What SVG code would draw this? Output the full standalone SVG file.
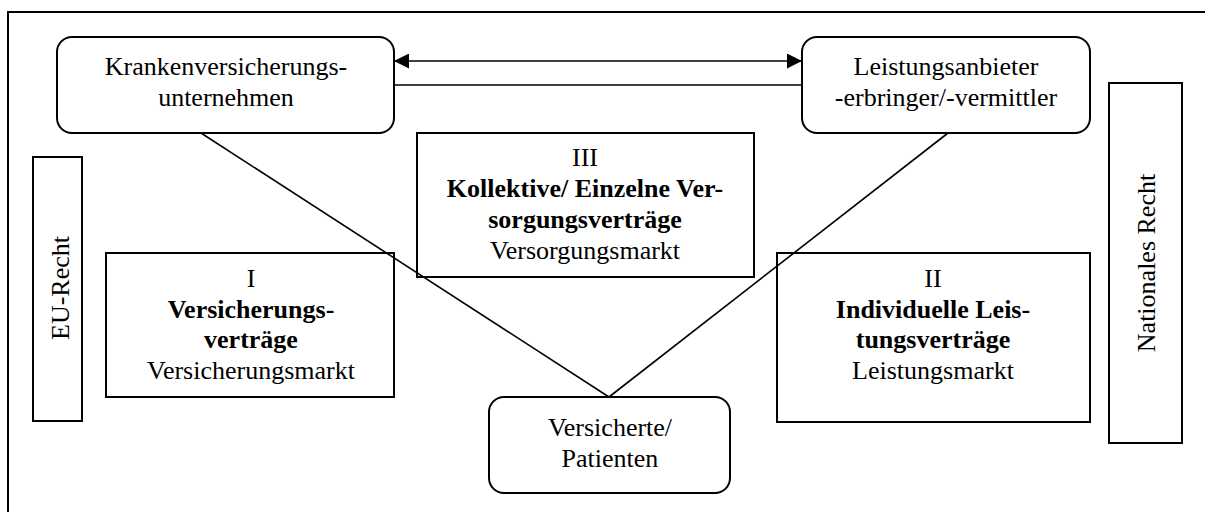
<svg xmlns="http://www.w3.org/2000/svg" width="1205" height="512" viewBox="0 0 1205 512">
  <style>
    .frame { fill: none; stroke: #000; stroke-width: 2; }
    .box { fill: #fff; stroke: #000; stroke-width: 2; }
    .open { fill: none; stroke: #000; stroke-width: 2; }
    .link { stroke: #000; stroke-width: 1.6; fill: none; }
    text { font-family: "Liberation Serif", "Times New Roman", serif; font-size: 26px; fill: #000; text-anchor: middle; }
    .b { font-weight: bold; }
  </style>
  <defs>
    <marker id="arrow" viewBox="0 0 15 15" refX="15" refY="7.5" markerWidth="15" markerHeight="15" markerUnits="userSpaceOnUse" orient="auto-start-reverse">
      <path d="M0,0 L15,7.5 L0,15 Z" fill="#000"/>
    </marker>
  </defs>

  <rect width="1205" height="512" fill="#fff"/>
  <!-- outer frame -->
  <rect class="frame" x="8" y="12" width="1210" height="520"/>

  <!-- connectors -->
  <g id="connectors">
    <line class="link" x1="394" y1="61" x2="802" y2="61" marker-start="url(#arrow)" marker-end="url(#arrow)"/>
    <line class="link" x1="394" y1="85" x2="802" y2="85"/>
    <line class="link" x1="201" y1="133" x2="609" y2="397"/>
    <line class="link" x1="948" y1="133" x2="609" y2="397"/>
  </g>

  <g id="eu-recht">
    <rect class="box" x="33" y="157" width="49" height="264"/>
    <text transform="translate(69,288) rotate(-90)">EU-Recht</text>
  </g>

  <g id="nationales-recht">
    <rect class="box" x="1109" y="83" width="73" height="360"/>
    <text transform="translate(1155,263) rotate(-90)">Nationales Recht</text>
  </g>

  <g id="versicherungsvertraege">
    <rect class="open" x="106" y="253" width="288" height="144"/>
    <text x="251" y="287">I</text>
    <text x="251" y="318" class="b">Versicherungs-</text>
    <text x="251" y="348" class="b">verträge</text>
    <text x="251" y="379">Versicherungsmarkt</text>
  </g>

  <g id="versorgungsvertraege">
    <rect class="open" x="417" y="133" width="337" height="144"/>
    <text x="585" y="166">III</text>
    <text x="585" y="197" class="b">Kollektive/ Einzelne Ver-</text>
    <text x="585" y="228" class="b">sorgungsverträge</text>
    <text x="585" y="259">Versorgungsmarkt</text>
  </g>

  <g id="leistungsvertraege">
    <rect class="open" x="777" y="253" width="313" height="169"/>
    <text x="933" y="287">II</text>
    <text x="933" y="318" class="b">Individuelle Leis-</text>
    <text x="933" y="348" class="b">tungsverträge</text>
    <text x="933" y="379">Leistungsmarkt</text>
  </g>

  <g id="krankenversicherung">
    <rect class="box" x="57" y="37" width="337" height="96" rx="15" ry="15"/>
    <text x="226" y="75">Krankenversicherungs-</text>
    <text x="226" y="106">unternehmen</text>
  </g>

  <g id="leistungsanbieter">
    <rect class="box" x="802" y="37" width="288" height="96" rx="15" ry="15"/>
    <text x="946" y="75">Leistungsanbieter</text>
    <text x="946" y="106">-erbringer/-vermittler</text>
  </g>

  <g id="versicherte">
    <rect class="box" x="489" y="397" width="241" height="96" rx="15" ry="15"/>
    <text x="610" y="436">Versicherte/</text>
    <text x="610" y="467">Patienten</text>
  </g>
</svg>
